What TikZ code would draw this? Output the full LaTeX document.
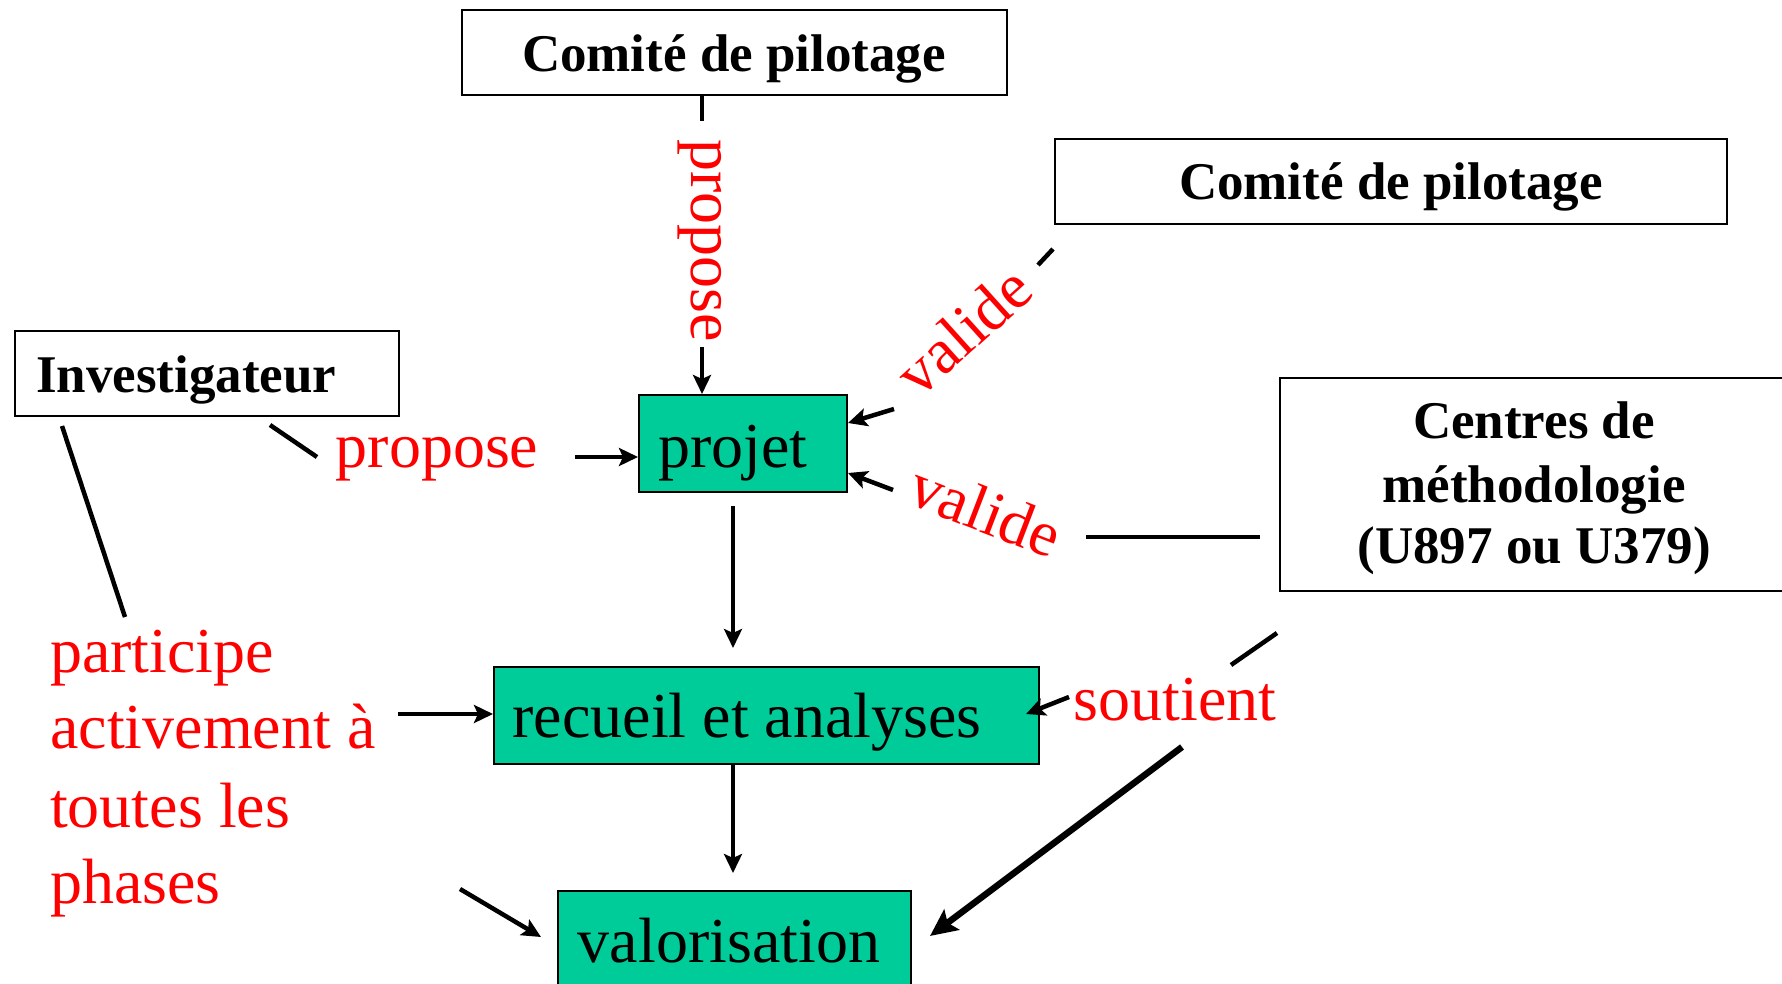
\documentclass[tikz,border=0pt]{standalone}
\usepackage{fontspec}
\setmainfont{Liberation Serif}
\usetikzlibrary{arrows.meta}
\definecolor{boxgreen}{HTML}{00CC99}
\begin{document}
\begin{tikzpicture}[x=1pt,y=-1pt,
  wbox/.style={draw=black, line width=2pt, fill=white, inner sep=0pt},
  gbox/.style={draw=black, line width=2pt, fill=boxgreen, inner sep=0pt},
  btxt/.style={font=\fontsize{53}{62}\selectfont\bfseries, inner sep=0pt},
  ntxt/.style={font=\fontsize{64}{77}\selectfont, inner sep=0pt},
  rtxt/.style={font=\fontsize{64}{77}\selectfont, text=red, inner sep=0pt},
  conn/.style={line width=4.5pt},
  arr/.style={line width=4.5pt, -{Stealth[length=19pt,width=18pt,inset=4pt]}},
  bigarr/.style={line width=6.5pt, -{Stealth[length=27pt,width=25pt,inset=5pt]}},
]
\useasboundingbox (0,0) rectangle (1782,984);
\clip (0,0) rectangle (1782,984);
\fill[white] (0,0) rectangle (1782,984);

% boxes
\node[wbox, anchor=north west, minimum width=545pt, minimum height=85pt] (cp1) at (461,9) {};
\node[wbox, anchor=north west, minimum width=672pt, minimum height=85pt] (cp2) at (1054,138) {};
\node[wbox, anchor=north west, minimum width=384pt, minimum height=85pt] (inv) at (14,330) {};
\node[wbox, anchor=north west, minimum width=514pt, minimum height=213pt] (cm) at (1279,377) {};
\node[gbox, anchor=north west, minimum width=208pt, minimum height=97pt] (pj) at (638,394) {};
\node[gbox, anchor=north west, minimum width=545pt, minimum height=97pt] (ra) at (493,666) {};
\node[gbox, anchor=north west, minimum width=353pt, minimum height=110pt] (val) at (557,890) {};

% box texts
\node[btxt, anchor=base] (tcp1) at (734,72) {Comité de pilotage};
\node[btxt, anchor=base] (tcp2) at (1391,200) {Comité de pilotage};
\node[btxt, anchor=base west] (tinv) at (36,392) {Investigateur};
\node[btxt, anchor=base] (tcm1) at (1534,438) {Centres de};
\node[btxt, anchor=base] (tcm2) at (1534,502) {méthodologie};
\node[btxt, anchor=base] (tcm3) at (1534,563) {(U897 ou U379)};
\node[ntxt, anchor=base] (tpj) at (733,467) {projet};
\node[ntxt, anchor=base] (tra) at (747,737) {recueil et analyses};
\node[ntxt, anchor=base] (tval) at (729,962) {valorisation};

% red labels
\node[rtxt, rotate=-90, anchor=base] (lp1) at (691,241) {propose};
\node[rtxt, rotate=42, anchor=base] (lv1) at (978,347) {valide};
\node[rtxt, rotate=-21, anchor=base] (lv2) at (978,531) {valide};
\node[rtxt, anchor=base] (lp2) at (437,467) {propose};
\node[rtxt, anchor=base] (ls) at (1175,720) {soutient};
\node[rtxt, anchor=base west] (lq1) at (50,672) {participe};
\node[rtxt, anchor=base west] (lq2) at (50,748) {activement à};
\node[rtxt, anchor=base west] (lq3) at (50,827) {toutes les};
\node[rtxt, anchor=base west] (lq4) at (50,903) {phases};

% coordinates
\coordinate (a1) at (702,121);
\coordinate (a2) at (702,347);
\coordinate (b1) at (1053,249);
\coordinate (b2) at (1038,265);
\coordinate (b3) at (894,409);
\coordinate (c1) at (1086,537);
\coordinate (c2) at (1260,537);
\coordinate (c3) at (893,490);
\coordinate (d1) at (270,425);
\coordinate (d2) at (317,457);
\coordinate (d3) at (575,457);
\coordinate (e1) at (62,426);
\coordinate (e2) at (125,617);
\coordinate (e3) at (398,714);
\coordinate (e4) at (460,889);
\coordinate (e5) at (541,937);
\coordinate (f1) at (733,506);
\coordinate (f2) at (733,648);
\coordinate (g2) at (733,873);
\coordinate (h1) at (1231,665);
\coordinate (h2) at (1277,633);
\coordinate (h3) at (1069,697);
\coordinate (h4) at (1026,714);
\coordinate (k1) at (1182,747);
\coordinate (k2) at (930,936);

% connectors
\draw[conn] (a1 |- cp1.south) -- (a1);
\draw[arr] (a2) -- (a2 |- pj.north);
\draw[conn] (b1) -- (b2);
\draw[arr] (b3) -- ([yshift=-29pt]pj.north east);
\draw[conn] (c1) -- (c2);
\draw[arr] (c3) -- ([yshift=-79pt]pj.north east);
\draw[conn] (d1) -- (d2);
\draw[arr] (d3) -- (d3 -| pj.west);
\draw[conn] (e1) -- (e2);
\draw[arr] (e3) -- (e3 -| ra.west);
\draw[arr] (e4) -- (e5);
\draw[arr] (f1) -- (f2);
\draw[arr] (f1 |- ra.south) -- (g2);
\draw[conn] (h1) -- (h2);
\draw[arr] (h3) -- (h4);
\draw[bigarr] (k1) -- (k2);
\end{tikzpicture}
\end{document}
